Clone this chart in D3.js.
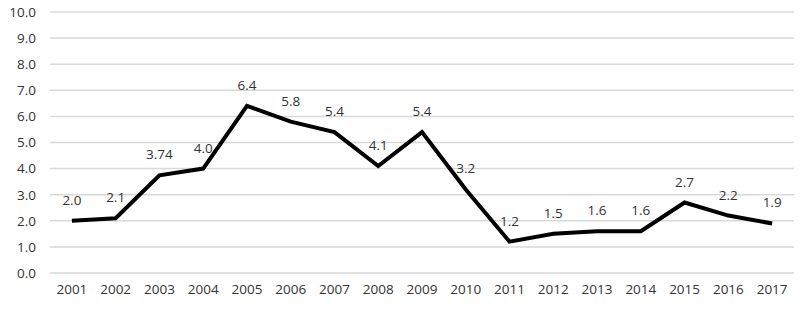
<!DOCTYPE html>
<html>
<head>
<meta charset="utf-8">
<script src="https://cdn.jsdelivr.net/npm/d3@7"></script>
<style>
  body { margin: 0; background: #fff; }
  text { font-family: "Open Sans", sans-serif; fill: #333; }
</style>
</head>
<body>
<script>
// years on the x axis
var years = ["2001","2002","2003","2004","2005","2006","2007","2008","2009","2010","2011","2012","2013","2014","2015","2016","2017"];
// plotted values
var values = [2.0, 2.1, 3.74, 4.0, 6.4, 5.8, 5.4, 4.1, 5.4, 3.2, 1.2, 1.5, 1.6, 1.6, 2.7, 2.2, 1.9];
// data labels as printed
var valueLabels = ["2.0","2.1","3.74","4.0","6.4","5.8","5.4","4.1","5.4","3.2","1.2","1.5","1.6","1.6","2.7","2.2","1.9"];
// y ticks
var yTicks = [0,1,2,3,4,5,6,7,8,9,10];

var width = 800, height = 311;
var svg = d3.select("body").append("svg").attr("width", width).attr("height", height);

var x = d3.scaleBand().domain(years).range([50, 794]);
var y = d3.scaleLinear().domain([0, 10]).range([273, 12]);

// gridlines
svg.append("g").selectAll("line").data(yTicks).enter().append("line")
    .attr("x1", 50).attr("x2", 794)
    .attr("y1", function(d){ return y(d); })
    .attr("y2", function(d){ return y(d); })
    .attr("stroke", "#d9d9d9")
    .attr("stroke-width", 1.5);

// y axis labels
var yAxis = d3.axisLeft(y).tickValues(yTicks).tickFormat(d3.format(".1f")).tickSize(0).tickPadding(0);
svg.append("g").attr("transform", "translate(36,0)").call(yAxis)
    .call(function(g){ g.select(".domain").remove(); })
    .selectAll("text").attr("font-size", 13.5).attr("font-family", null).attr("fill", "#333");

// x axis labels
var xAxis = d3.axisBottom(x).tickSize(0).tickPadding(0);
svg.append("g").attr("transform", "translate(0,284)").call(xAxis)
    .call(function(g){ g.select(".domain").remove(); })
    .selectAll("text").attr("font-size", 13.5).attr("font-family", null).attr("fill", "#333");

// the line
var line = d3.line()
    .x(function(d,i){ return x(years[i]) + x.bandwidth()/2; })
    .y(function(d){ return y(d); });

svg.append("path").attr("d", line(values))
    .attr("fill", "none")
    .attr("stroke", "#000")
    .attr("stroke-width", 4)
    .attr("stroke-linejoin", "miter");

// data labels
svg.append("g").selectAll("text").data(values).enter().append("text")
    .attr("x", function(d,i){ return x(years[i]) + x.bandwidth()/2; })
    .attr("y", function(d){ return y(d) - 16; })
    .attr("text-anchor", "middle")
    .attr("font-size", 13.5)
    .text(function(d,i){ return valueLabels[i]; });
</script>
</body>
</html>
